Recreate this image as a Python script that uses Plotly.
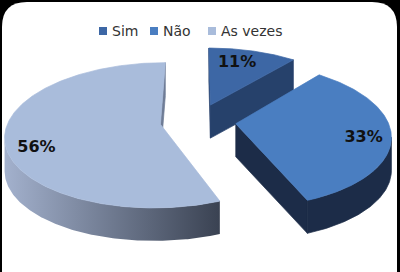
import numpy as np
import plotly.graph_objects as go

# ---------------- data ----------------
categories = ["Sim", "Não", "As vezes"]
values = [11, 33, 56]
pct_labels = ["11%", "33%", "56%"]

# ---------------- styles ----------------
TOP = ["#3D67A5", "#4A7EC1", "#A9BCDB"]
SIDE = ["#26416B", "#1C2C48", "#6F7C96"]
SIDE_GRAD = [None, None, ("#A3B1CD", "#3A4252")]
LABEL_NUDGE = [(-8, 2), (4, 5), (0, 13)]
LEGEND_X = [99, 150, 208]
LEGEND_Y = 31

CX, CY = 198.0, 121.0
RX, RY = 152.0, 70.0
THICK = 33.0
PERSP = 0.15
EXPLODE = 0.25
LABEL_R = 0.8


def proj(u, w, down=0.0):
    u = np.asarray(u, dtype=float)
    w = np.asarray(w, dtype=float)
    s = 1.0 / (1.0 - PERSP * w)
    return CX + RX * u * s, CY + RY * w * s + down


def poly(xs, ys, color, grad=None):
    xs = list(xs) + [xs[0]]
    ys = list(ys) + [ys[0]]
    tr = go.Scatter(x=xs, y=ys, mode="lines", fill="toself", fillcolor=color,
                    line=dict(color=color, width=0.7), hoverinfo="skip",
                    showlegend=False)
    if grad is not None:
        tr.update(fillgradient=dict(type="horizontal",
                                    colorscale=[[0, grad[0]], [1, grad[1]]]),
                  line=dict(width=0))
    return tr


total = float(sum(values))
bounds = np.concatenate([[0.0], np.cumsum(values)]) / total * 2 * np.pi
n = len(values)
mids = [(bounds[i] + bounds[i + 1]) / 2 for i in range(n)]
order = sorted(range(n), key=lambda i: -np.cos(mids[i]))

traces = []
label_x, label_y = [], []
for i in order:
    a0, a1 = bounds[i], bounds[i + 1]
    mid = mids[i]
    ou, ow = EXPLODE * np.sin(mid), -EXPLODE * np.cos(mid)
    m = max(10, int(np.degrees(a1 - a0) * 1.5))
    t = np.linspace(a0, a1, m)
    au, aw = ou + np.sin(t), ow - np.cos(t)
    tx, ty = proj(au, aw)
    bx, by = proj(au, aw, THICK)
    ax, ay = proj(ou, ow)
    ax, ay = float(ax), float(ay)

    # radial walls
    for edge, inner in ((a0, a0 + 0.05), (a1, a1 - 0.05)):
        ex, ey = proj(ou + np.sin(edge), ow - np.cos(edge))
        ix, iy = proj(ou + 0.5 * np.sin(inner), ow - 0.5 * np.cos(inner))
        dx, dy = float(ex) - ax, float(ey) - ay
        c_in = dx * (float(iy) - ay) - dy * (float(ix) - ax)
        c_dn = dx * 1.0
        if abs(c_dn) < 1e-6:
            continue
        if np.sign(c_in) != np.sign(c_dn):
            traces.append(poly([ax, float(ex), float(ex), ax],
                               [ay, float(ey), float(ey) + THICK, ay + THICK],
                               SIDE[i]))

    # outer curved wall (visible where arc runs leftward on screen)
    vis = np.diff(tx) < 0
    j = 0
    while j < len(vis):
        if vis[j]:
            k = j
            while k < len(vis) and vis[k]:
                k += 1
            xs = list(tx[j:k + 1]) + list(bx[j:k + 1][::-1])
            ys = list(ty[j:k + 1]) + list(by[j:k + 1][::-1])
            traces.append(poly(xs, ys, SIDE[i], SIDE_GRAD[i]))
            j = k
        else:
            j += 1

    # top face
    traces.append(poly([ax] + list(tx), [ay] + list(ty), TOP[i]))

for i in range(n):
    mid = mids[i]
    r = EXPLODE + LABEL_R
    lx, ly = proj(r * np.sin(mid), -r * np.cos(mid))
    label_x.append(float(lx) + LABEL_NUDGE[i][0])
    label_y.append(float(ly) + LABEL_NUDGE[i][1])

traces.append(go.Scatter(x=label_x, y=label_y, mode="text", text=pct_labels,
                         textfont=dict(family="DejaVu Sans", size=16,
                                       color="#111111"),
                         hoverinfo="skip", showlegend=False,
                         texttemplate="<b>%{text}</b>"))

fig = go.Figure(traces)

shapes = [dict(type="path", xref="x", yref="y", layer="below",
               path="M 2,27 Q 2,2 27,2 L 372,2 Q 397,2 397,27 L 397,290 L 2,290 Z",
               fillcolor="white", line=dict(width=0))]
annotations = []
for i, name in enumerate(categories):
    x0 = LEGEND_X[i]
    shapes.append(dict(type="rect", xref="x", yref="y", x0=x0, x1=x0 + 8,
                       y0=LEGEND_Y - 4, y1=LEGEND_Y + 4, fillcolor=TOP[i],
                       line=dict(width=0)))
    annotations.append(dict(x=x0 + 11, y=LEGEND_Y, xref="x", yref="y",
                            text=name, showarrow=False, xanchor="left",
                            yanchor="middle",
                            font=dict(family="DejaVu Sans", size=14,
                                      color="#333333")))

fig.update_layout(width=400, height=272, margin=dict(l=0, r=0, t=0, b=0),
                  paper_bgcolor="black", plot_bgcolor="rgba(0,0,0,0)",
                  xaxis=dict(range=[0, 400], visible=False, fixedrange=True),
                  yaxis=dict(range=[272, 0], visible=False, fixedrange=True),
                  showlegend=False, shapes=shapes, annotations=annotations)

fig.write_html("out.html", config={"displayModeBar": False})
